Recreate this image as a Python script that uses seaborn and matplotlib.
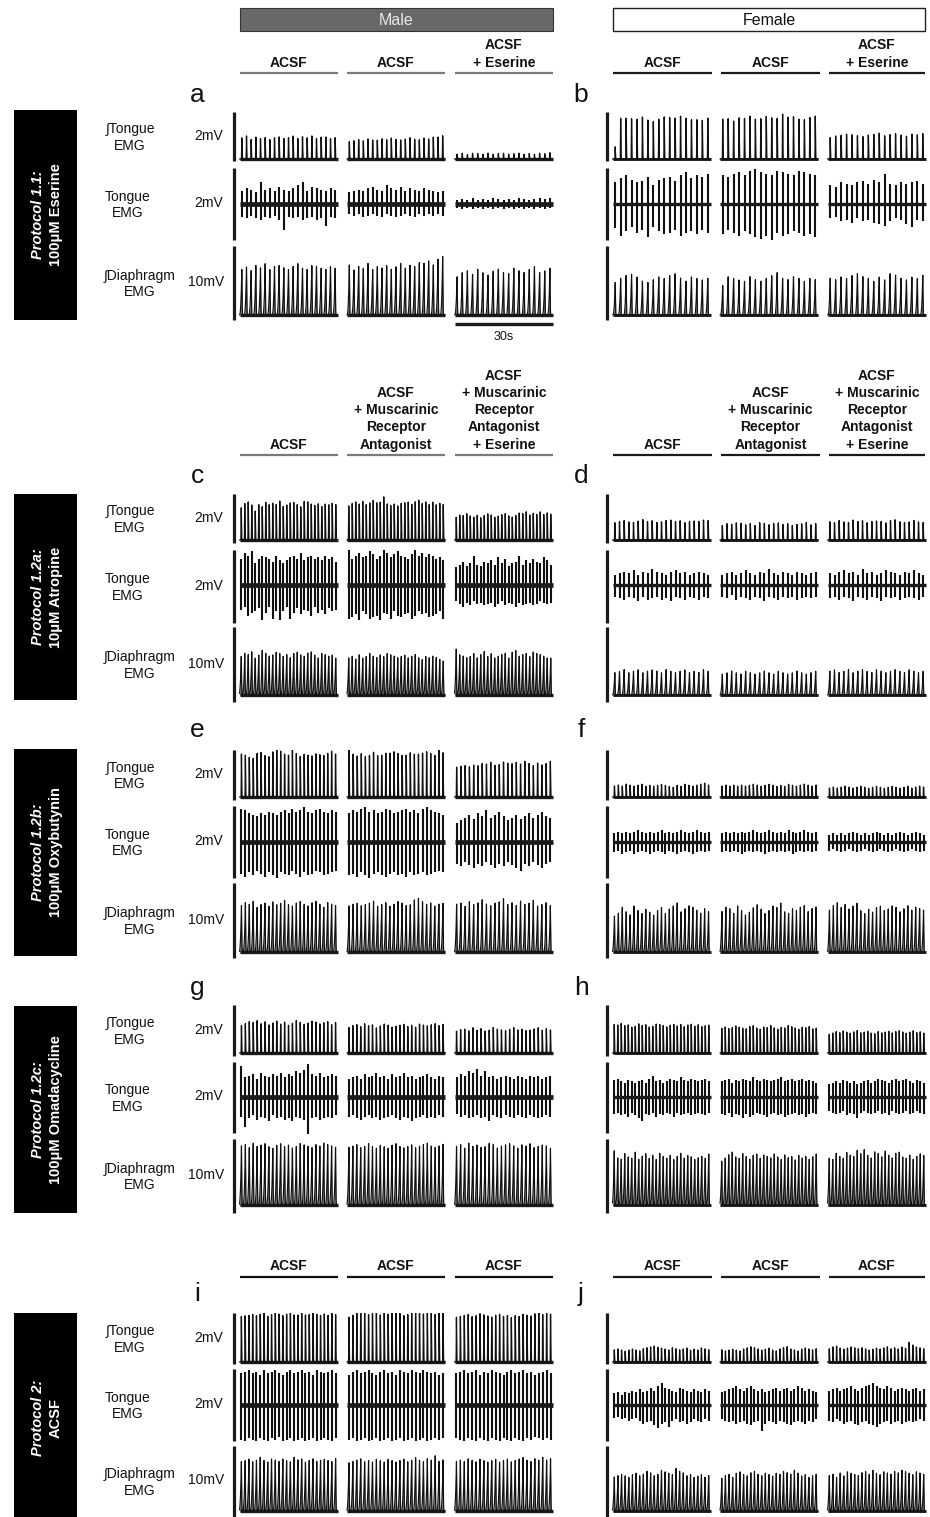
import numpy as np
import pandas as pd
import matplotlib
matplotlib.use("Agg")
import matplotlib.pyplot as plt
from matplotlib.patches import Rectangle
import seaborn as sns

# ---------------------------------------------------------------- DATA
sexes = ["Male", "Female"]
protocol_titles = ["Protocol 1.1:", "Protocol 1.2a:", "Protocol 1.2b:", "Protocol 1.2c:", "Protocol 2:"]
protocol_drugs = ["100μM Eserine", "10μM Atropine", "100μM Oxybutynin", "100μM Omadacycline", "ACSF"]
trace_labels = ["∫Tongue\nEMG", "Tongue\nEMG", "∫Diaphragm\nEMG"]
scale_mV = [2, 2, 10]
scale_labels = ["2mV", "2mV", "10mV"]
conditions_p11 = ["ACSF", "ACSF", "ACSF\n+ Eserine"]
conditions_p12 = ["ACSF", "ACSF\n+ Muscarinic\nReceptor\nAntagonist",
                  "ACSF\n+ Muscarinic\nReceptor\nAntagonist\n+ Eserine"]
conditions_p2 = ["ACSF", "ACSF", "ACSF"]
panel_letters = ["a", "b", "c", "d", "e", "f", "g", "h", "i", "j"]
segment_seconds = 30
time_scale_label = "30s"

# burst amplitudes, % of the scale bar; three recording segments per trace
a_int_tongue = [[44,48,40,46,42,45,40,44,46,42,45,47,43,46,44,48,42,46,45,43,44],
                [36,38,40,38,41,40,39,42,40,43,41,39,42,44,41,40,43,42,45,46,48],
                [10,12,9,12,11,10,12,10,11,12,10,11,12,10,11,10,12,11,13]]
a_raw_up = [[18,22,20,16,30,20,22,18,24,20,18,22,26,30,18,24,22,20,18,22,20],
            [16,18,20,18,22,24,20,18,26,22,20,24,18,22,20,18,22,20,18,16,18],
            [6,7,6,8,6,7,6,8,7,6,7,6,8,7,6,7,8,7,9]]
a_raw_down = [[18,20,16,20,22,18,20,16,22,36,18,20,18,22,20,18,22,20,30,18,20],
              [14,16,14,18,16,14,16,18,14,16,18,16,14,16,18,14,16,14,16,14,16],
              [6,7,6,7,6,7,6,7,6,7,6,7,6,7,6,7,6,7,6]]
a_int_diaph = [[62,66,60,68,64,70,62,66,68,64,62,66,70,64,62,68,66,64,62,66,64],
               [68,62,66,64,70,62,66,64,68,62,66,70,64,68,66,72,70,74,68,76,80],
               [52,58,60,56,62,58,54,60,62,58,56,64,60,58,62,66,58,60,64]]

b_int_tongue = [[25,85,86,84,82,86,80,78,84,88,86,84,88,85,83,82,80,84],
                [82,84,80,86,84,88,82,84,90,86,84,92,86,88,84,82,86,88],
                [44,48,50,52,50,48,46,50,52,54,48,50,52,50,48,52,50,52]]
b_raw_up = [[30,36,40,34,30,32,38,26,34,36,38,32,40,44,36,40,38,42],
            [40,38,42,44,40,46,48,44,42,40,46,44,42,40,46,44,42,40],
            [26,24,30,28,26,30,32,28,34,30,42,28,26,30,28,30,32,28]]
b_raw_down = [[34,44,38,32,40,36,46,32,38,42,40,36,44,40,38,42,36,40],
              [42,36,40,44,38,42,46,48,44,50,40,44,42,38,40,44,42,46],
              [20,18,24,22,26,20,24,22,26,28,30,24,20,22,28,32,22,24]]
b_int_diaph = [[44,50,54,56,52,46,44,48,52,50,54,56,50,46,52,50,48,50],
               [40,52,50,48,46,52,48,46,50,54,58,50,48,52,50,46,50,48],
               [50,48,52,50,54,56,52,50,46,52,48,56,54,50,48,52,50,54]]

c_int_tongue = [[68,76,78,72,60,74,70,78,72,76,74,82,70,72,76,78,74,70,80,78,74,72,76,70,74,72,76,74],
                [72,76,78,74,80,74,78,82,76,78,90,76,72,74,70,76,78,80,74,78,82,76,80,74,78,72,76,74],
                [48,52,50,54,50,48,52,46,50,54,52,48,50,52,54,50,48,52,56,54,58,52,56,54,58,52,56,54]]
c_raw_up = [[36,44,40,46,30,36,40,38,36,32,40,34,30,34,38,40,36,44,34,38,40,36,38,34,40,36,38,32],
            [48,36,40,44,38,40,46,42,36,40,48,44,38,42,46,40,38,36,42,48,40,44,38,42,40,36,38,34],
            [24,28,32,26,30,40,28,26,32,30,34,28,38,30,36,26,30,32,40,28,34,30,36,32,30,38,34,28]]
c_raw_down = [[34,30,42,38,36,32,48,38,30,46,36,48,36,30,46,38,32,40,34,36,42,30,38,34,40,32,36,34],
              [46,44,40,48,36,40,46,44,42,48,38,40,46,36,42,44,40,38,46,42,36,40,38,44,42,40,36,46],
              [22,26,30,24,28,22,26,24,28,26,24,30,26,22,28,24,26,30,24,28,26,24,28,26,22,24,26,24]]
c_int_diaph = [[52,56,54,58,50,54,60,56,52,54,58,56,52,54,50,56,58,54,52,56,58,54,50,56,54,52,54,50],
               [50,52,48,54,50,52,56,52,50,54,52,56,54,52,50,52,54,50,52,54,50,48,52,50,52,50,48,46],
               [62,54,52,50,52,56,50,54,58,52,56,50,52,54,56,50,58,60,52,54,56,52,58,56,54,52,50,50]]

d_int_tongue = [[36,38,40,38,36,40,42,38,40,36,38,40,42,38,40,36,38,40,38,42,40],
                [30,34,32,36,34,32,34,30,36,34,32,34,36,32,34,30,32,34,36,32,34],
                [38,36,40,38,36,42,38,40,36,38,40,38,36,40,42,38,36,38,40,38,36]]
d_raw_up = [[14,16,18,16,20,14,18,16,22,18,16,14,18,20,16,18,14,16,18,16,14],
            [14,16,18,14,16,20,16,14,18,16,22,16,14,18,16,14,18,16,14,16,18],
            [16,14,18,20,16,18,14,22,16,18,14,16,20,18,16,14,18,16,20,16,14]]
d_raw_down = [[16,18,20,16,18,22,16,20,18,16,20,18,22,16,18,20,16,18,20,16,18],
              [16,18,14,20,16,18,20,16,18,22,16,18,20,16,18,16,20,18,16,18,16],
              [18,16,20,16,18,22,16,18,20,16,18,22,16,18,16,20,18,16,18,20,16]]
d_int_diaph = [[30,32,34,30,32,34,30,32,34,32,30,34,32,30,32,34,30,32,30,34,32],
               [28,30,32,30,28,32,30,28,30,32,30,28,32,30,28,30,32,30,28,30,32],
               [32,34,30,32,34,30,32,34,32,30,34,32,30,32,34,32,30,34,32,30,32]]

e_int_tongue = [[86,84,80,78,88,90,84,82,92,108,94,88,86,100,90,84,88,86,84,88,86,84,88,92,86],
                [100,86,84,88,82,86,90,84,86,88,90,92,88,86,84,90,88,86,90,92,88,86,94,90],
                [60,62,64,62,66,64,68,66,70,64,66,72,70,68,70,66,72,68,64,70,66,68,72]]
e_raw_up = [[46,44,40,38,36,40,38,42,40,38,42,44,40,46,42,44,48,42,40,44,46,42,40,44,42],
            [40,44,42,46,48,42,44,40,42,46,44,40,42,44,46,42,44,40,46,48,44,42,40,38],
            [26,30,34,38,32,40,36,44,34,38,42,36,30,34,38,32,36,40,34,38,42,36,34]]
e_raw_down = [[44,48,42,46,40,44,48,42,46,50,42,44,46,40,44,48,42,46,44,40,42,46,44,42,40],
              [46,44,48,42,46,50,44,42,46,48,44,42,46,44,48,42,46,44,42,46,44,42,40,42],
              [30,34,28,32,36,30,34,28,32,36,30,34,28,32,36,40,30,34,28,32,36,30,28]]
e_int_diaph = [[62,66,64,68,60,64,66,62,68,64,66,70,64,62,66,68,64,62,66,68,64,60,66,64,62],
               [62,64,66,62,64,66,68,62,64,66,62,64,68,66,62,64,70,72,68,64,66,62,64,66],
               [64,66,62,68,64,66,70,64,62,66,68,72,64,66,62,68,64,66,70,62,64,66,62]]

f_int_tongue = [[22,24,22,26,24,22,24,26,22,24,22,24,26,24,22,20,24,22,26,24,22,24,26,28,24],
                [22,24,22,24,22,24,22,24,26,24,22,24,26,24,22,24,22,26,24,22,24,26,24,22,24],
                [18,20,18,20,22,20,18,20,22,20,18,20,22,20,18,20,22,20,18,20,22,18,20,22,20]]
f_raw_up = [[12,14,12,14,12,14,16,14,12,14,12,14,16,12,14,12,14,16,14,12,14,16,14,12,14],
            [12,14,12,14,12,14,12,14,16,14,12,14,16,14,12,14,12,16,14,12,14,16,14,12,14],
            [10,12,10,12,10,12,14,12,10,12,10,12,14,12,10,12,10,12,14,12,10,12,14,12,10]]
f_raw_down = [[14,12,16,14,12,16,14,12,14,16,14,12,14,16,12,14,16,14,12,14,16,14,12,14,12],
              [14,12,14,12,14,16,14,12,14,12,14,16,14,12,14,12,14,12,16,14,12,14,12,14,12],
              [12,10,12,14,12,10,12,14,12,10,12,14,12,10,12,14,12,10,12,14,12,10,12,14,12]]
f_int_diaph = [[48,52,60,54,50,62,56,52,58,54,50,56,60,52,58,62,66,54,58,62,60,56,52,58,54],
               [54,60,58,52,62,56,50,54,60,64,58,52,56,62,60,66,54,52,58,56,60,62,54,58,60],
               [56,62,66,60,64,58,62,66,56,52,58,54,60,62,56,58,62,60,54,58,62,56,60,58,56]]

g_int_tongue = [[54,58,62,60,64,58,62,56,60,64,58,62,56,60,66,62,58,60,64,62,58,60,62,56,60],
                [50,54,56,52,58,54,56,50,54,58,56,52,54,56,58,54,56,52,58,56,54,56,58,54,56],
                [44,46,48,44,50,46,48,44,46,50,48,46,44,48,50,46,48,44,46,48,50,46,48,46]]
g_raw_up = [[44,28,30,32,26,34,30,28,32,30,34,28,32,30,36,34,38,46,32,30,34,28,30,32,30],
            [26,28,30,26,32,28,30,34,28,30,26,32,28,30,34,28,30,26,28,30,32,28,26,30,28],
            [28,32,30,36,34,40,30,36,28,30,26,28,30,28,26,30,28,26,30,28,30,26,28,30]]
g_raw_down = [[28,42,30,26,32,28,30,34,26,30,28,32,30,34,28,30,32,52,30,28,32,30,28,30,26],
              [28,26,30,32,28,26,30,28,32,30,28,26,30,32,28,30,34,30,28,26,30,28,30,26,28],
              [24,28,26,30,28,26,30,28,34,26,28,30,26,28,30,26,28,30,26,28,30,28,26,28]]
g_int_diaph = [[80,82,78,84,80,82,84,80,78,82,84,80,82,78,80,84,82,80,78,82,80,84,82,80,78],
               [78,80,82,78,80,84,80,78,82,80,78,82,84,80,78,80,82,78,80,82,84,80,78,80,82],
               [80,82,78,84,80,82,78,80,84,82,78,80,82,84,80,78,82,80,84,78,80,82,80,78]]

h_int_tongue = [[58,56,58,54,56,52,54,58,54,56,52,54,58,56,54,52,56,58,54,56,52,56,58,54,56,52,54,56],
                [50,52,48,50,54,52,50,48,52,54,50,48,52,50,54,50,48,52,50,54,52,50,48,52,50,52,48,50],
                [38,40,42,40,44,42,40,42,44,40,42,44,40,38,42,40,42,44,40,42,44,42,40,42,44,40,42,40]]
h_raw_up = [[24,26,22,20,24,22,20,22,24,20,26,30,22,24,20,22,26,24,22,28,24,22,26,24,22,24,26,22],
            [22,24,26,20,24,22,26,24,22,28,24,22,26,24,22,24,26,28,22,24,26,22,24,26,22,24,22,20],
            [18,20,22,20,24,22,20,22,18,20,22,24,20,22,26,24,22,20,24,26,22,24,26,22,20,24,22,20]]
h_raw_down = [[24,22,26,24,28,22,26,30,34,24,26,22,28,24,26,22,24,28,22,26,24,22,26,24,22,24,26,22],
              [24,26,22,28,24,26,30,24,28,26,22,24,26,28,24,22,26,24,28,26,24,22,26,24,28,24,22,24],
              [20,22,24,22,20,26,22,24,30,22,20,22,24,22,20,24,22,26,20,22,24,22,20,24,22,20,22,24]]
h_int_diaph = [[74,64,62,70,66,64,72,62,66,70,64,68,62,70,66,64,68,62,66,70,64,68,66,62,64,66,64,70],
               [60,64,68,72,66,64,70,66,62,68,70,64,68,66,64,70,66,62,68,64,66,62,68,64,66,62,66,70],
               [64,62,70,66,64,72,68,66,74,70,76,68,64,72,70,66,74,68,64,70,72,66,64,68,62,66,70,68]]

i_int_tongue = [[90,92,94,96,92,94,98,92,96,100,94,92,96,102,94,92,98,94,96,100,94,92,96,94,98,94],
                [88,92,96,102,98,94,96,100,94,98,96,100,104,98,94,96,100,104,98,96,100,98,94,96,98],
                [88,90,92,94,90,92,96,94,92,90,94,96,92,94,90,94,92,96,94,92,96,98,94,96,94]]
i_raw_up = [[44,46,48,44,46,42,48,44,46,48,44,42,46,48,44,46,48,44,46,42,48,46,44,46,48,44],
            [42,46,48,44,46,48,44,42,46,48,44,46,42,48,46,44,48,46,44,48,46,44,46,42,44],
            [44,46,48,44,46,48,42,46,44,48,46,44,42,46,48,44,46,48,44,46,42,44,46,48,44]]
i_raw_down = [[48,50,46,48,50,46,48,50,46,48,44,50,48,46,50,48,46,50,48,46,50,48,46,48,50,46],
              [48,46,50,48,46,50,48,46,50,48,46,50,48,46,50,48,46,50,48,46,50,48,46,48,46],
              [46,48,50,46,48,50,46,48,50,46,48,50,46,48,50,46,48,50,46,48,44,46,48,46,48]]
i_int_diaph = [[70,72,74,70,72,76,72,70,74,72,70,74,72,70,76,72,74,70,72,74,70,72,74,72,70,74],
               [68,70,72,74,70,72,70,74,72,70,74,72,70,72,74,70,72,76,72,70,74,72,78,70,72],
               [70,72,70,74,72,70,74,72,70,72,74,70,72,74,70,72,74,76,72,70,74,72,76,72,74]]

j_int_tongue = [[24,26,24,22,24,26,24,22,26,28,30,32,30,28,26,24,28,26,24,26,28,24,26,24,28,26,24],
                [24,22,24,26,24,22,26,28,30,28,26,24,26,28,24,22,26,28,30,26,24,22,26,28,26,24,26],
                [26,30,32,28,26,28,30,28,26,28,26,24,26,28,26,28,30,26,28,26,30,28,40,34,30,28,26]]
j_raw_up = [[16,18,14,18,16,20,18,22,18,20,24,20,26,30,24,22,20,18,24,22,20,18,22,20,18,22,20],
            [18,20,22,24,26,22,20,24,26,22,20,22,18,20,22,24,20,22,24,20,22,26,24,20,22,20,18],
            [20,22,24,20,22,24,26,22,20,24,26,28,30,26,24,22,26,24,20,22,24,22,20,22,24,20,22]]
j_raw_down = [[18,16,20,18,22,20,18,22,26,24,22,28,32,26,24,30,22,20,24,22,26,24,20,22,24,20,22],
              [20,22,24,22,26,24,22,26,28,24,22,36,26,22,24,26,22,24,26,28,24,22,24,26,22,24,20],
              [22,24,20,22,26,24,22,26,28,24,22,26,28,30,26,24,22,26,24,22,26,24,22,24,22,20,22]]
j_int_diaph = [[48,50,52,50,48,52,54,50,52,56,54,50,52,58,56,54,52,60,56,54,50,52,48,50,52,48,50],
               [46,50,52,48,54,56,52,50,54,56,52,50,54,52,50,54,52,56,54,52,58,54,50,52,48,50,52],
               [50,52,48,54,50,56,54,52,50,54,56,52,58,54,52,56,54,52,56,54,58,56,54,52,56,54,52]]

panels = {
    "a": (a_int_tongue, a_raw_up, a_raw_down, a_int_diaph),
    "b": (b_int_tongue, b_raw_up, b_raw_down, b_int_diaph),
    "c": (c_int_tongue, c_raw_up, c_raw_down, c_int_diaph),
    "d": (d_int_tongue, d_raw_up, d_raw_down, d_int_diaph),
    "e": (e_int_tongue, e_raw_up, e_raw_down, e_int_diaph),
    "f": (f_int_tongue, f_raw_up, f_raw_down, f_int_diaph),
    "g": (g_int_tongue, g_raw_up, g_raw_down, g_int_diaph),
    "h": (h_int_tongue, h_raw_up, h_raw_down, h_int_diaph),
    "i": (i_int_tongue, i_raw_up, i_raw_down, i_int_diaph),
    "j": (j_int_tongue, j_raw_up, j_raw_down, j_int_diaph),
}

# ---------------------------------------------------------------- LAYOUT (pixels)
W, H = 930, 1517
sns.set_theme(style="white")
plt.rcParams["font.family"] = ["Liberation Sans", "DejaVu Sans"]

fig = plt.figure(figsize=(W / 100, H / 100), dpi=100)
bg = fig.add_axes([0, 0, 1, 1])
bg.set_xlim(0, W)
bg.set_ylim(H, 0)
bg.axis("off")

SPP = segment_seconds / 98.0          # seconds per pixel
SEG_OFF = [0, 107.5, 215]             # segment offsets (px)
SEG_W = 98
MALE_X0, FEMALE_X0 = 239.5, 612.5

sections = [
    dict(bars=[(112, 161), (168, 240), (246, 320)], base=[159, 204, 315], letter_y=95,
         box=(110, 320), header=conditions_p11, header_line=73, male_line="#7a7a7a"),
    dict(bars=[(494, 543), (550, 623), (627, 702)], base=[540, 585, 695], letter_y=476,
         box=(494, 700), header=conditions_p12, header_line=455, male_line="#7a7a7a"),
    dict(bars=[(750, 800), (806, 878), (883, 958)], base=[797, 842, 952], letter_y=730,
         box=(749, 956), header=None),
    dict(bars=[(1005, 1056), (1062, 1133), (1139, 1213)], base=[1053, 1097, 1205], letter_y=988,
         box=(1006, 1213), header=None),
    dict(bars=[(1313, 1364), (1369, 1441), (1446, 1517)], base=[1362, 1405, 1511], letter_y=1294,
         box=(1313, 1530), header=conditions_p2, header_line=1277, male_line="#111111"),
]


def int_wave(amps, rise, fall, power):
    t = np.linspace(0, segment_seconds, 4000)
    y = np.zeros_like(t)
    n = len(amps)
    for i, a in enumerate(amps):
        c = (i + 0.5) * segment_seconds / n
        up = np.clip((t - (c - rise)) / rise, 0, 1) ** power
        down = np.clip(1 - (t - c) / fall, 0, 1) ** 1.5
        shape = np.where(t <= c, up, down)
        y = np.maximum(y, a * shape)
    return t, y


def make_strip(x0, top, bot, base, mv):
    left, right = x0 - 9, x0 + SEG_OFF[2] + SEG_W + 2
    ax = fig.add_axes([left / W, 1 - bot / H, (right - left) / W, (bot - top) / H])
    k = mv / (bot - top)
    y0, y1 = -(bot - base) * k, (base - top) * k
    ax.set_xlim((left - x0) * SPP, (right - x0) * SPP)
    ax.set_ylim(y0, y1)
    ax.axis("off")
    xb = -6.0 * SPP
    ax.plot([xb, xb], [y0, y1], color="k", lw=2.3, solid_capstyle="butt", clip_on=False)
    return ax


def draw_integrated(ax, segs, mv, diaph, female):
    frames = []
    for s, amps in enumerate(segs):
        scaled = [v / 100.0 * mv for v in amps]
        if diaph:
            t, y = int_wave(scaled, 0.75, 0.22, 2.6)
        else:
            t, y = int_wave(scaled, 0.12, 0.2, 1.4)
        x = t + SEG_OFF[s] * SPP
        if diaph:
            ax.fill_between(x, 0, y, color="#6e6e6e", lw=0)
        frames.append(pd.DataFrame({"t": x, "v": y, "seg": s}))
        ax.plot([x[0], x[-1]], [0, 0], color="k", lw=2.4 if not female else 2.1,
                solid_capstyle="butt", clip_on=False)
    df = pd.concat(frames, ignore_index=True)
    sns.lineplot(data=df, x="t", y="v", units="seg", estimator=None, sort=False,
                 color="#111111", lw=0.95 if not diaph else 0.85, ax=ax, legend=False)
    ax.set_xlabel("")
    ax.set_ylabel("")


def draw_raw(ax, ups, downs, mv, female):
    for s, (u, d) in enumerate(zip(ups, downs)):
        n = len(u)
        x0 = SEG_OFF[s] * SPP
        centers = [x0 + (i + 0.5) * segment_seconds / n for i in range(n)]
        ax.vlines(centers, [-v / 100.0 * mv for v in d], [v / 100.0 * mv for v in u],
                  color="#111111", lw=1.5, clip_on=False)
        ax.plot([x0, x0 + segment_seconds], [0, 0], color="k", lw=2.4 if female else 3.4,
                solid_capstyle="butt", clip_on=False)


# ---------------------------------------------------------------- HEADER BOXES
bg.add_patch(Rectangle((240, 8), 313, 23, facecolor="#686868", edgecolor="#333333", lw=0.8))
bg.text(396.5, 20, sexes[0], ha="center", va="center", fontsize=11.5, color="#e8e8e8")
bg.add_patch(Rectangle((613, 8), 312, 23, facecolor="white", edgecolor="#222222", lw=1.0))
bg.text(769, 20, sexes[1], ha="center", va="center", fontsize=11.5, color="#111111")

male_cols = [(240, 338), (347, 445), (455, 553)]
female_cols = [(613, 712), (721, 820), (829, 925)]

for si, sec in enumerate(sections):
    # condition headers
    if sec["header"] is not None:
        ly = sec["header_line"]
        for cols, lc in ((male_cols, sec["male_line"]), (female_cols, "#1a1a1a")):
            for (c0, c1), lab in zip(cols, sec["header"]):
                bg.text((c0 + c1) / 2, ly - 3.5, lab, ha="center", va="bottom", fontsize=10,
                        fontweight="bold", linespacing=1.28, color="#111111")
                bg.plot([c0, c1], [ly, ly], color=lc, lw=1.6, solid_capstyle="butt")
    # panel letters
    bg.text(197, sec["letter_y"], panel_letters[2 * si], ha="center", va="center",
            fontsize=19, color="#111111")
    bg.text(581, sec["letter_y"], panel_letters[2 * si + 1], ha="center", va="center",
            fontsize=19, color="#111111")
    # protocol box
    y0, y1 = sec["box"]
    bg.add_patch(Rectangle((14, y0), 63, y1 - y0, facecolor="black", edgecolor="none"))
    cy = (y0 + min(y1, H)) / 2 if si < 4 else 1418
    bg.text(37.5, cy, protocol_titles[si], rotation=90, ha="center", va="center", color="white",
            fontsize=10.5, fontweight="bold", fontstyle="italic")
    bg.text(55.5, cy, protocol_drugs[si], rotation=90, ha="center", va="center", color="white",
            fontsize=10.5, fontweight="bold")
    # row labels
    for r in range(3):
        top, bot = sec["bars"][r]
        yc = (top + bot) / 2
        lx = [130, 128, 140][r]
        bg.text(lx, yc + 1, trace_labels[r], ha="center", va="center", fontsize=10,
                linespacing=1.25, color="#111111")
        bg.text(209 if r < 2 else 206, yc - 1, scale_labels[r], ha="center", va="center",
                fontsize=10, color="#111111")
    # traces
    for side, x0 in ((0, MALE_X0), (1, FEMALE_X0)):
        letter = panel_letters[2 * si + side]
        it, ru, rd, idp = panels[letter]
        female = side == 1
        for r in range(3):
            top, bot = sec["bars"][r]
            ax = make_strip(x0, top, bot, sec["base"][r], scale_mV[r])
            if r == 0:
                draw_integrated(ax, it, scale_mV[r], False, female)
            elif r == 1:
                draw_raw(ax, ru, rd, scale_mV[r], female)
            else:
                draw_integrated(ax, idp, scale_mV[r], True, female)

# time scale bar under panel a
bg.plot([455, 553], [324, 324], color="k", lw=2.4, solid_capstyle="butt")
bg.text(504, 337, time_scale_label, ha="center", va="center", fontsize=9, color="#111111")

fig.savefig("out.png", dpi=100)
